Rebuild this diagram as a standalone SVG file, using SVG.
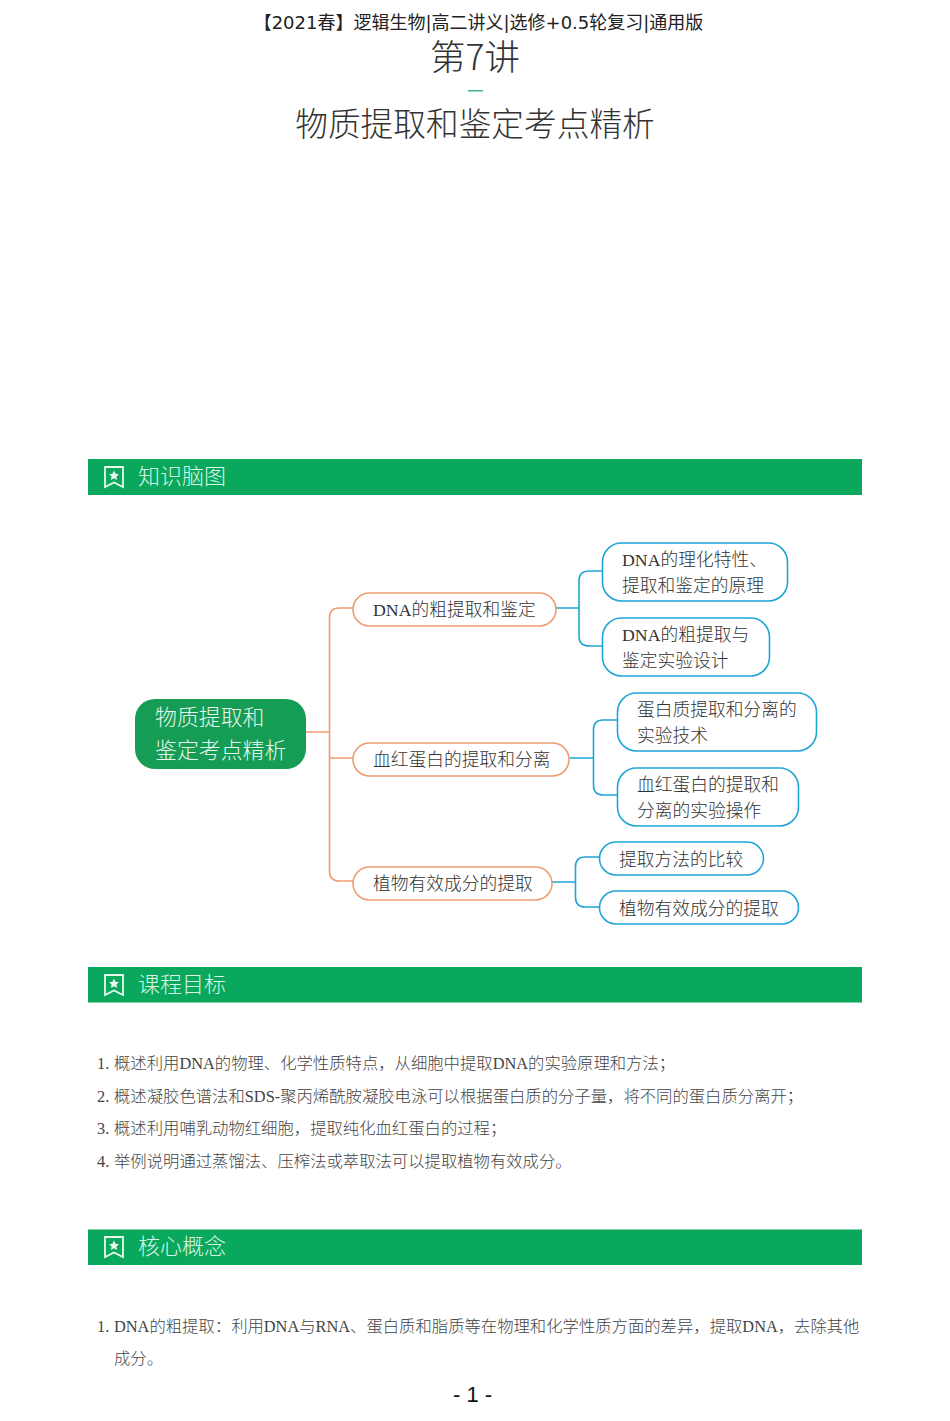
<svg xmlns="http://www.w3.org/2000/svg" width="950" height="1421" viewBox="0 0 950 1421">
<style>
text{font-family:"Noto Sans CJK SC","Noto Sans",sans-serif;font-weight:300;fill:#333}
.m{font-family:"Liberation Serif","Noto Sans CJK SC",serif;font-size:17.75px}
.b{font-family:"Liberation Serif","Noto Sans CJK SC",serif;font-size:16.35px;fill:#444}
.h{font-size:22px;fill:#d8f5e6}
.r{font-size:21.9px;fill:#e4f7ec}
.bar{fill:#0aa85c}
.o{fill:#fff;stroke:#ee9d73;stroke-width:1.6}
.c{fill:#fff;stroke:#1fa5d6;stroke-width:1.6}
.lo{fill:none;stroke:#ee9d73;stroke-width:1.6}
.lc{fill:none;stroke:#1fa5d6;stroke-width:1.6}
.ic{fill:none;stroke:#e8f8ef;stroke-width:1.8}
</style>
<defs>
<g id="icon"><path class="ic" d="M-9-10H9V10L0 5.500-9 10Z"/><path fill="#e8f8ef" d="M0-6.500 1.500-3.200 5-2.800 2.400-.5 3.100 3 0 1.300-3.100 3-2.400-.5-5-2.800-1.500-3.200Z"/></g>
</defs>
<g id="header">
<text x="478.500" y="29" text-anchor="middle" font-size="18" style="font-family:'DejaVu Sans','Noto Sans CJK SC',sans-serif;fill:#222;font-weight:400">【2021春】逻辑生物|高二讲义|选修+0.5轮复习|通用版</text>
<text x="475" y="70" text-anchor="middle" font-size="35.500">第7讲</text>
<rect x="468" y="90" width="15" height="1.500" fill="#3cb58a"/>
<text x="475" y="136" text-anchor="middle" font-size="32.700">物质提取和鉴定考点精析</text>
</g>
<g id="section-map"><rect class="bar" x="88" y="459" width="774" height="36"/><use href="#icon" x="114" y="477"/><text class="h" x="138" y="484">知识脑图</text></g>
<g id="connectors">
<path class="lo" d="M306 732H329.500M353 608H339Q329.500 608 329.500 618V871Q329.500 881 339 881H353M329.500 758H353"/>
<path class="lc" d="M556 608H579M603 571H589Q579 571 579 581V636Q579 646 589 646H603"/>
<path class="lc" d="M570 758H593.500M618 720H603Q593.500 720 593.500 730V785Q593.500 795 603 795H618"/>
<path class="lc" d="M552 882H575.500M600 857H585Q575.500 857 575.500 867V897Q575.500 907 585 907H600"/>
</g>
<g id="root"><rect x="135" y="699" width="171" height="70" rx="20" fill="#169d55"/><text class="r" x="155" y="725">物质提取和</text><text class="r" x="155" y="758">鉴定考点精析</text></g>
<g id="n1"><rect class="o" x="353" y="593" width="203" height="33" rx="16.500"/><text class="m" x="373" y="616">DNA的粗提取和鉴定</text></g>
<g id="n2"><rect class="o" x="353" y="743" width="216" height="33" rx="16.500"/><text class="m" x="373" y="766">血红蛋白的提取和分离</text></g>
<g id="n3"><rect class="o" x="353" y="867" width="199" height="33" rx="16.500"/><text class="m" x="373" y="889.700">植物有效成分的提取</text></g>
<g id="n11"><rect class="c" x="602.500" y="543" width="185" height="58" rx="19"/><text class="m" x="622" y="566">DNA的理化特性、</text><text class="m" x="622" y="592">提取和鉴定的原理</text></g>
<g id="n12"><rect class="c" x="602.500" y="618" width="167" height="58" rx="19"/><text class="m" x="622" y="640.500">DNA的粗提取与</text><text class="m" x="622" y="667">鉴定实验设计</text></g>
<g id="n21"><rect class="c" x="617.500" y="693" width="199" height="58" rx="19"/><text class="m" x="637" y="715.500">蛋白质提取和分离的</text><text class="m" x="637" y="741.500">实验技术</text></g>
<g id="n22"><rect class="c" x="617.500" y="768" width="181" height="58" rx="19"/><text class="m" x="637" y="790.500">血红蛋白的提取和</text><text class="m" x="637" y="817">分离的实验操作</text></g>
<g id="n31"><rect class="c" x="599.500" y="842" width="164" height="33" rx="16.500"/><text class="m" x="619" y="865.500">提取方法的比较</text></g>
<g id="n32"><rect class="c" x="599.500" y="891" width="199" height="33" rx="16.500"/><text class="m" x="619" y="914.500">植物有效成分的提取</text></g>
<g id="section-goal"><rect class="bar" x="88" y="967" width="774" height="35.500"/><use href="#icon" x="114" y="985"/><text class="h" x="138" y="991.500">课程目标</text></g>
<g id="goals">
<text class="b" x="97" y="1069">1.</text><text class="b" x="114" y="1069">概述利用DNA的物理、化学性质特点，从细胞中提取DNA的实验原理和方法；</text>
<text class="b" x="97" y="1102">2.</text><text class="b" x="114" y="1102">概述凝胶色谱法和SDS-聚丙烯酰胺凝胶电泳可以根据蛋白质的分子量，将不同的蛋白质分离开；</text>
<text class="b" x="97" y="1134">3.</text><text class="b" x="114" y="1134">概述利用哺乳动物红细胞，提取纯化血红蛋白的过程；</text>
<text class="b" x="97" y="1167">4.</text><text class="b" x="114" y="1167">举例说明通过蒸馏法、压榨法或萃取法可以提取植物有效成分。</text>
</g>
<g id="section-core"><rect class="bar" x="88" y="1229.500" width="774" height="35.500"/><use href="#icon" x="114" y="1247"/><text class="h" x="138" y="1254">核心概念</text></g>
<g id="core">
<text class="b" x="97" y="1332">1.</text><text class="b" x="114" y="1332">DNA的粗提取：利用DNA与RNA、蛋白质和脂质等在物理和化学性质方面的差异，提取DNA，去除其他</text>
<text class="b" x="114" y="1364">成分。</text>
</g>
<text id="page" x="472.500" y="1402" text-anchor="middle" font-size="22" style="font-family:'Liberation Sans',sans-serif;fill:#111;font-weight:400">- 1 -</text>
</svg>
